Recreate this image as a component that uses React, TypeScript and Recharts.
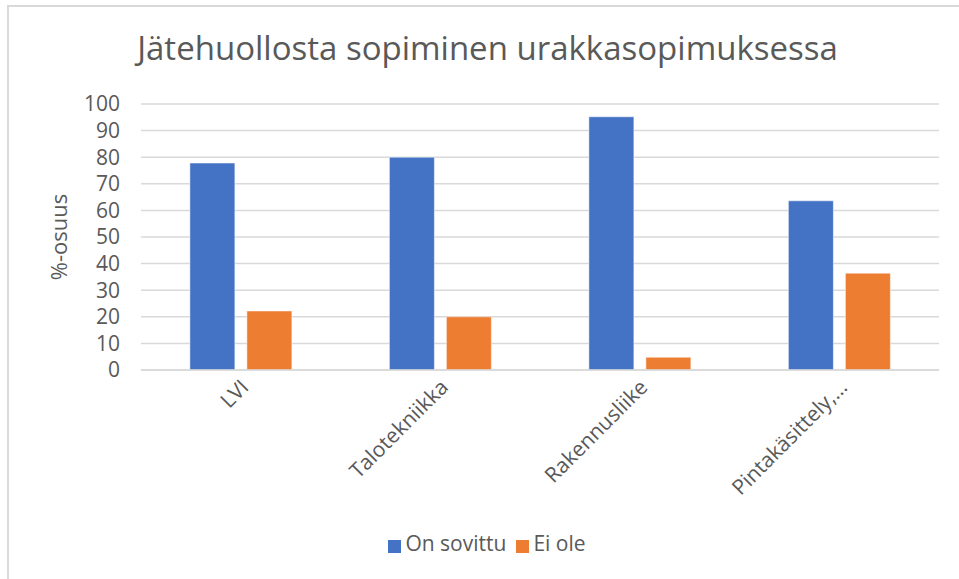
import { BarChart, Bar, XAxis, YAxis, CartesianGrid, Legend } from "recharts";

const categories = ["LVI", "Talotekniikka", "Rakennusliike", "Pintakäsittely,…"];
const onSovittu = [77.8, 80, 95.2, 63.6];
const eiOle = [22.2, 20, 4.8, 36.4];
const yTicks = [0, 10, 20, 30, 40, 50, 60, 70, 80, 90, 100];

const data = categories.map((name, i) => ({
    name,
    on: onSovittu[i],
    ei: eiOle[i],
}));

const font = "'Open Sans', sans-serif";
const textColor = "#595959";

function AngledTick(props: any) {
    const { x, y, payload } = props;
    return (
        <g transform={`translate(${x},${y})`}>
            <text
                x={0}
                y={0}
                dy={14}
                dx={-1}
                transform="rotate(-45)"
                textAnchor="end"
                fill={textColor}
                fontSize={21}
                fontFamily={font}
            >
                {payload.value}
            </text>
        </g>
    );
}

export default function App() {
    return (
        <div style={{ position: "absolute", left: 0, top: 0, width: 959, height: 579, background: "#fff" }}>
            {/* chart frame, only top and left edges show */}
            <div style={{ position: "absolute", left: 7, top: 5, width: 1000, height: 1000, borderTop: "2px solid #d9d9d9", borderLeft: "2px solid #d9d9d9" }} />
            <div style={{ position: "absolute", left: 0, top: 25, width: 975, textAlign: "center", fontFamily: font, fontWeight: 400, fontSize: 33, lineHeight: "46px", color: textColor, whiteSpace: "nowrap" }}>
                Jätehuollosta sopiminen urakkasopimuksessa
            </div>
            <BarChart
                width={959}
                height={579}
                data={data}
                margin={{ top: 104, right: 20, left: 45, bottom: 22 }}
                barGap={12}
                barCategoryGap="24.5%"
                style={{ fontFamily: font }}
            >
                <CartesianGrid vertical={false} stroke="#d9d9d9" strokeWidth={1.5} />
                <XAxis
                    dataKey="name"
                    tick={<AngledTick />}
                    tickLine={false}
                    axisLine={{ stroke: "#d9d9d9", strokeWidth: 1.5 }}
                    interval={0}
                    height={159}
                />
                <YAxis
                    width={96}
                    domain={[0, 100]}
                    ticks={yTicks}
                    interval={0}
                    tickLine={false}
                    axisLine={false}
                    tickMargin={15}
                    tick={{ fill: textColor, fontSize: 21, fontFamily: font }}
                    label={{ value: "%-osuus", angle: -90, position: "insideLeft", offset: 14, fill: textColor, fontSize: 22, fontFamily: font, style: { textAnchor: "middle" } }}
                />
                <Legend
                    iconType="square"
                    iconSize={13}
                    itemSorter={(item: any) => (item.dataKey === "on" ? 0 : 1)}
                    formatter={(v: string) => <span style={{ color: textColor, fontSize: 21, fontFamily: font }}>{v}</span>}
                />
                <Bar dataKey="on" name="On sovittu" fill="#4472C4" stroke="#ffffff" strokeWidth={0.5} isAnimationActive={false} />
                <Bar dataKey="ei" name="Ei ole" fill="#ED7D31" stroke="#ffffff" strokeWidth={0.5} isAnimationActive={false} />
            </BarChart>
        </div>
    );
}
